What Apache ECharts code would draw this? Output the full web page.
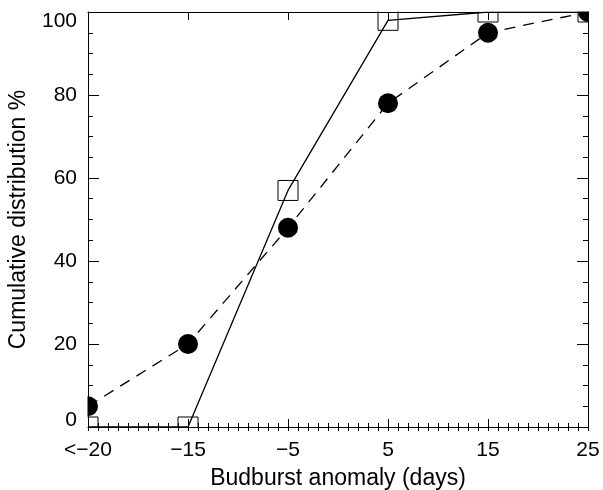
<!DOCTYPE html>
<html>
<head>
<meta charset="utf-8">
<script src="https://cdn.jsdelivr.net/npm/echarts@6/dist/echarts.min.js"></script>
<style>
  html, body { margin: 0; padding: 0; background: #fff; }
  #main { width: 603px; height: 490px; }
</style>
</head>
<body>
<div id="main"></div>
<script>
// budburst anomaly bins (days); -25 stands for "<-20"
var xBins = [-25, -15, -5, 5, 15, 25];
var xTickLabels = ['<\u221220', '\u221215', '\u22125', '5', '15', '25'];
// cumulative distribution %, open squares (solid line)
var squareSeries = [0, 0, 57, 98, 100, 100];
// cumulative distribution %, filled circles (dashed line)
var circleSeries = [5, 20, 48, 78, 95, 100];

var FONT = '"Liberation Sans", Arial, sans-serif';
var black = '#000';

function pairs(vals) {
  return xBins.map(function (x, i) { return [x, vals[i]]; });
}
function labelFor(v) {
  var i = xBins.indexOf(Math.round(v));
  return i >= 0 ? xTickLabels[i] : '';
}
// the end labels of the y axis sit inside the box, like the original
function yLabel(v) {
  if (v === 0) return '{lo|0}';
  if (v === 100) return '{hi|100}';
  return String(v);
}

var lineAxis = { show: true, onZero: false, lineStyle: { color: black, width: 1 } };

// white masks outside the plot box so markers on the border get cut like the original
var masks = [
  { type: 'rect', z: 5, shape: { x: 0, y: 0, width: 87.5, height: 490 }, style: { fill: '#fff' } },
  { type: 'rect', z: 5, shape: { x: 588.5, y: 0, width: 20, height: 490 }, style: { fill: '#fff' } },
  { type: 'rect', z: 5, shape: { x: 0, y: 0, width: 603, height: 11.5 }, style: { fill: '#fff' } },
  { type: 'rect', z: 5, shape: { x: 0, y: 427.5, width: 603, height: 70 }, style: { fill: '#fff' } }
];

var myChart = echarts.init(document.getElementById('main'), null, { renderer: 'canvas' });
myChart.setOption({
  backgroundColor: '#fff',
  animation: false,
  grid: { left: 88, right: 15, top: 12, bottom: 63, containLabel: false, outerBoundsMode: 'none' },
  graphic: { elements: masks },
  xAxis: [
    { // bottom: major ticks + labels
      type: 'value', position: 'bottom', min: -25, max: 25, interval: 5, z: 10,
      axisLine: lineAxis,
      axisTick: { show: true, inside: true, length: 8, customValues: xBins, lineStyle: { color: black } },
      axisLabel: { show: true, customValues: xBins, formatter: labelFor, color: black,
                   fontFamily: FONT, fontSize: 21, margin: 13 },
      splitLine: { show: false },
      name: 'Budburst anomaly (days)', nameLocation: 'middle', nameGap: 40,
      nameTextStyle: { color: black, fontFamily: FONT, fontSize: 23 }
    },
    { // bottom: minor ticks every day
      type: 'value', position: 'bottom', min: -25, max: 25, interval: 1, z: 10,
      axisLine: { show: false },
      axisTick: { show: true, inside: true, length: 4, lineStyle: { color: black } },
      axisLabel: { show: false }, splitLine: { show: false }
    },
    { // top: major ticks
      type: 'value', position: 'top', min: -25, max: 25, interval: 5, z: 10,
      axisLine: lineAxis,
      axisTick: { show: true, inside: true, length: 8, customValues: xBins, lineStyle: { color: black } },
      axisLabel: { show: false }, splitLine: { show: false }
    },
    { // top: minor ticks
      type: 'value', position: 'top', min: -25, max: 25, interval: 1, z: 10,
      axisLine: { show: false },
      axisTick: { show: true, inside: true, length: 4, lineStyle: { color: black } },
      axisLabel: { show: false }, splitLine: { show: false }
    }
  ],
  yAxis: [
    {
      type: 'value', position: 'left', min: 0, max: 100, interval: 20, z: 10,
      axisLine: lineAxis,
      axisTick: { show: true, inside: true, length: 11, lineStyle: { color: black } },
      minorTick: { show: true, splitNumber: 4, length: 5, lineStyle: { color: black } },
      axisLabel: {
        color: black, fontFamily: FONT, fontSize: 21, margin: 11, formatter: yLabel,
        rich: {
          lo: { fontFamily: FONT, fontSize: 21, color: black, padding: [0, 0, 14, 0] },
          hi: { fontFamily: FONT, fontSize: 21, color: black, padding: [18, 0, 0, 0] }
        }
      },
      splitLine: { show: false },
      name: 'Cumulative distribution %', nameLocation: 'middle', nameGap: 58,
      nameTextStyle: { color: black, fontFamily: FONT, fontSize: 23 }
    },
    {
      type: 'value', position: 'right', min: 0, max: 100, interval: 20, z: 10,
      axisLine: lineAxis,
      axisTick: { show: true, inside: true, length: 11, lineStyle: { color: black } },
      minorTick: { show: true, splitNumber: 4, length: 5, lineStyle: { color: black } },
      axisLabel: { show: false }, splitLine: { show: false }
    }
  ],
  series: [
    {
      name: 'squares', type: 'line', xAxisIndex: 0, yAxisIndex: 0,
      data: pairs(squareSeries),
      symbol: 'rect', symbolSize: 20, showAllSymbol: true, clip: true,
      lineStyle: { color: black, width: 1.3, type: 'solid' },
      itemStyle: { color: 'rgba(0,0,0,0)', borderColor: black, borderWidth: 1 },
      emphasis: { disabled: true }, z: 3
    },
    {
      name: 'circles', type: 'line', xAxisIndex: 0, yAxisIndex: 0,
      data: pairs(circleSeries),
      symbol: 'circle', symbolSize: 20, showAllSymbol: true, clip: true,
      lineStyle: { color: black, width: 1.3, type: [11, 8] },
      itemStyle: { color: black, borderWidth: 0 },
      emphasis: { disabled: true }, z: 2
    }
  ]
});
</script>
</body>
</html>
